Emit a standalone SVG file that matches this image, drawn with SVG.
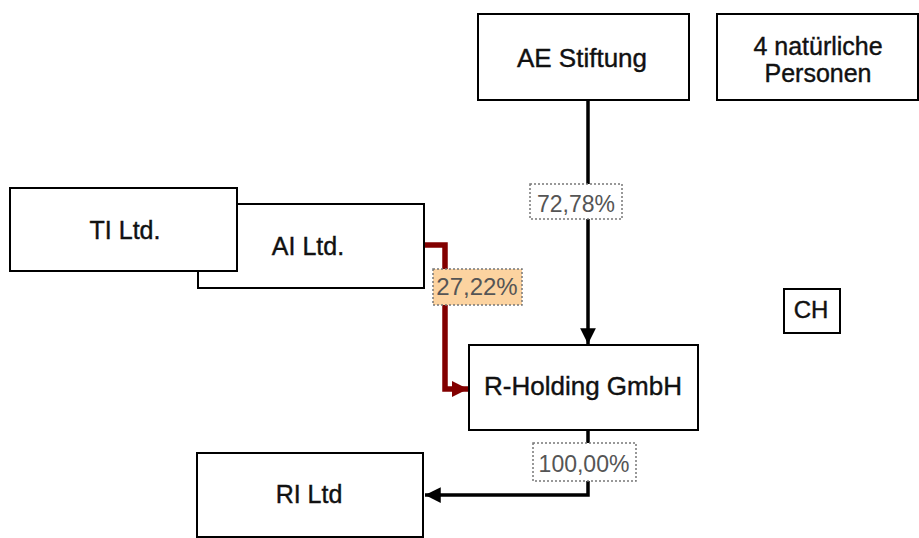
<svg xmlns="http://www.w3.org/2000/svg" width="919" height="538" viewBox="0 0 919 538">
<style>
.box{fill:#fff;stroke:#000;stroke-width:2}
.t{font-family:"Liberation Sans",Arial,sans-serif;fill:#111;stroke:#111;stroke-width:0.4;text-anchor:middle}
.lbl{font-family:"Liberation Sans",Arial,sans-serif;fill:#555;text-anchor:middle;font-size:23px}
.lb{fill:#fff;stroke:#777;stroke-width:1.5;stroke-dasharray:2 2}
.blk{fill:none;stroke:#000;stroke-width:3.5}
.red{fill:none;stroke:#820000;stroke-width:5.5}
</style>
<defs>
<marker id="ab" viewBox="0 0 10 10" refX="10" refY="5" markerWidth="4.5" markerHeight="4.5" markerUnits="strokeWidth" orient="auto"><path d="M0,0 L10,5 L0,10 z" fill="#000"/></marker>
<marker id="ar" viewBox="0 0 10 10" refX="10" refY="5" markerWidth="3" markerHeight="3" markerUnits="strokeWidth" orient="auto"><path d="M0,0 L10,5 L0,10 z" fill="#820000"/></marker>
</defs>
<rect width="919" height="538" fill="#fff"/>
<g id="connectors">
<path class="blk" d="M588,100 V344" marker-end="url(#ab)"/>
<path class="red" d="M424,245 H445 V389 H468" marker-end="url(#ar)"/>
<path class="blk" d="M588,430 V495 H425" marker-end="url(#ab)"/>
<g id="lbl1"><rect class="lb" x="530" y="184" width="92" height="35"/><text class="lbl" x="576" y="212">72,78%</text></g>
<g id="lbl2"><rect class="lb" x="433" y="269" width="89" height="36" style="fill:#fcd3a0"/><text class="lbl" x="477" y="295" style="font-size:24px">27,22%</text></g>
<g id="lbl3"><rect class="lb" x="533" y="443" width="103" height="38"/><text class="lbl" x="584" y="472">100,00%</text></g>
</g>
<g id="ae"><rect class="box" x="478" y="14" width="211" height="86"/><text class="t" x="582" y="67" font-size="26">AE Stiftung</text></g>
<g id="personen"><rect class="box" x="717" y="14" width="201" height="86"/><text class="t" x="818" y="55" font-size="25">4 natürliche</text><text class="t" x="818" y="82" font-size="25">Personen</text></g>
<g id="ai"><rect class="box" x="198" y="204" width="226" height="84"/><text class="t" x="308" y="255" font-size="25">AI Ltd.</text></g>
<g id="ti"><rect class="box" x="10" y="188" width="227" height="83"/><text class="t" x="125" y="239" font-size="25">TI Ltd.</text></g>
<g id="ch"><rect class="box" x="784" y="289" width="56" height="44"/><text class="t" x="811" y="318" font-size="24">CH</text></g>
<g id="rholding"><rect class="box" x="469" y="345" width="229" height="85"/><text class="t" x="583" y="395" font-size="26">R-Holding GmbH</text></g>
<g id="ri"><rect class="box" x="197" y="453" width="226" height="84"/><text class="t" x="309" y="503" font-size="25">RI Ltd</text></g>
</svg>
